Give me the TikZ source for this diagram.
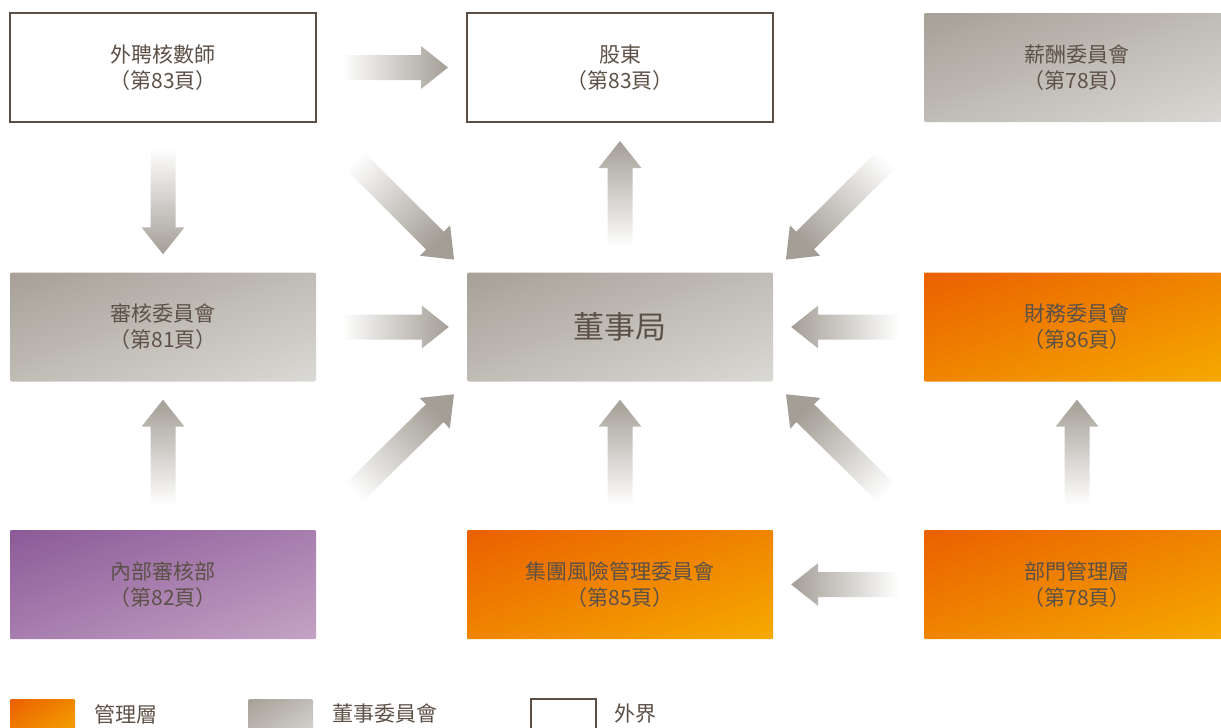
\documentclass[tikz,border=0pt]{standalone}
\usepackage{fontspec}
\setmainfont{Noto Sans CJK TC}
\usetikzlibrary{calc,positioning,shadings}

\definecolor{ink}{RGB}{92,81,71}
\definecolor{frame}{RGB}{91,79,68}
\definecolor{greyA}{RGB}{166,160,151}
\definecolor{greyM}{RGB}{192,188,182}
\definecolor{greyB}{RGB}{219,217,213}
\definecolor{orangeA}{RGB}{234,96,0}
\definecolor{orangeM}{RGB}{240,133,0}
\definecolor{orangeB}{RGB}{246,170,0}
\definecolor{purpleA}{RGB}{139,90,152}
\definecolor{purpleM}{RGB}{167,126,174}
\definecolor{purpleB}{RGB}{196,163,196}
\definecolor{flowgrey}{RGB}{163,158,150}

\tikzset{
	box/.style={minimum width=306pt, minimum height=109pt, inner sep=0pt, align=center, text=ink, font=\fontsize{21}{26}\selectfont},
	outside/.style={box, draw=frame, line width=2pt, fill=white},
	committee/.style={box, rounded corners=2pt, upper left=greyA, upper right=greyM, lower left=greyM, lower right=greyB},
	management/.style={box, rounded corners=1pt, upper left=orangeA, upper right=orangeM, lower left=orangeM, lower right=orangeB},
	internalaudit/.style={box, rounded corners=1pt, upper left=purpleA, upper right=purpleM, lower left=purpleM, lower right=purpleB},
	key/.style={minimum width=65pt, minimum height=42pt},
	keylabel/.style={anchor=west, inner sep=0pt, text=ink, font=\fontsize{21}{26}\selectfont},
	flow/.style={left color=white, right color=flowgrey}
}

% wide shaded arrow from one node anchor towards another
\newcommand{\blockarrow}[3][25pt]{%
	\coordinate (tail) at ($(#2)!#1!(#3)$);
	\coordinate (tip) at ($(#3)!18pt!(#2)$);
	\coordinate (neck) at ($(tip)!27pt!(tail)$);
	\pgfpointdiff{\pgfpointanchor{tail}{center}}{\pgfpointanchor{tip}{center}}%
	\pgfgetlastxy{\arrowdx}{\arrowdy}%
	\pgfmathsetmacro{\arrowdir}{atan2(\arrowdy,\arrowdx)+90}%
	\shade[flow, shading angle=\arrowdir]
		($(tail)!12.5pt!90:(tip)$) -- ($(neck)!12.5pt!90:(tip)$) -- ($(neck)!21.5pt!90:(tip)$) -- (tip)
		-- ($(neck)!21.5pt!-90:(tip)$) -- ($(neck)!12.5pt!-90:(tip)$) -- ($(tail)!12.5pt!-90:(tip)$) -- cycle;
}

\begin{document}
\begin{tikzpicture}[x=1pt, y=-1pt]
	\useasboundingbox (0,0) rectangle (1221,728);
	\node[outside] (auditor) at (163,67.5) {外聘核數師\\（第83頁）};
	\node[outside] (share) at (620,67.5) {股東\\（第83頁）};
	\node[committee] (remun) at (1077,67.5) {薪酬委員會\\（第78頁）};
	\node[committee] (audit) at (163,327) {審核委員會\\（第81頁）};
	\node[committee, font=\fontsize{31}{36}\selectfont] (board) at (620,327) {董事局};
	\node[management] (finance) at (1077,327) {財務委員會\\（第86頁）};
	\node[internalaudit] (internal) at (163,584.5) {內部審核部\\（第82頁）};
	\node[management] (risk) at (620,584.5) {集團風險管理委員會\\（第85頁）};
	\node[management] (dept) at (1077,584.5) {部門管理層\\（第78頁）};
	\blockarrow{auditor.east}{share.west}
	\blockarrow{auditor.south}{audit.north}
	\blockarrow[40pt]{auditor.south east}{board.north west}
	\blockarrow{board.north}{share.south}
	\blockarrow[40pt]{remun.south west}{board.north east}
	\blockarrow{audit.east}{board.west}
	\blockarrow{finance.west}{board.east}
	\blockarrow{internal.north}{audit.south}
	\blockarrow[40pt]{internal.north east}{board.south west}
	\blockarrow{risk.north}{board.south}
	\blockarrow[40pt]{dept.north west}{board.south east}
	\blockarrow{dept.north}{finance.south}
	\blockarrow{dept.west}{risk.east}
	% legend
	\node[management, key] (key1) at (42.5,720) {};
	\node[keylabel] (label1) at (94,714) {管理層};
	\node[committee, key] (key2) at (280.5,720) {};
	\node[keylabel] (label2) at (332,714) {董事委員會};
	\node[outside, key] (key3) at (563.5,720) {};
	\node[keylabel] (label3) at (614,714) {外界};
\end{tikzpicture}
\end{document}
